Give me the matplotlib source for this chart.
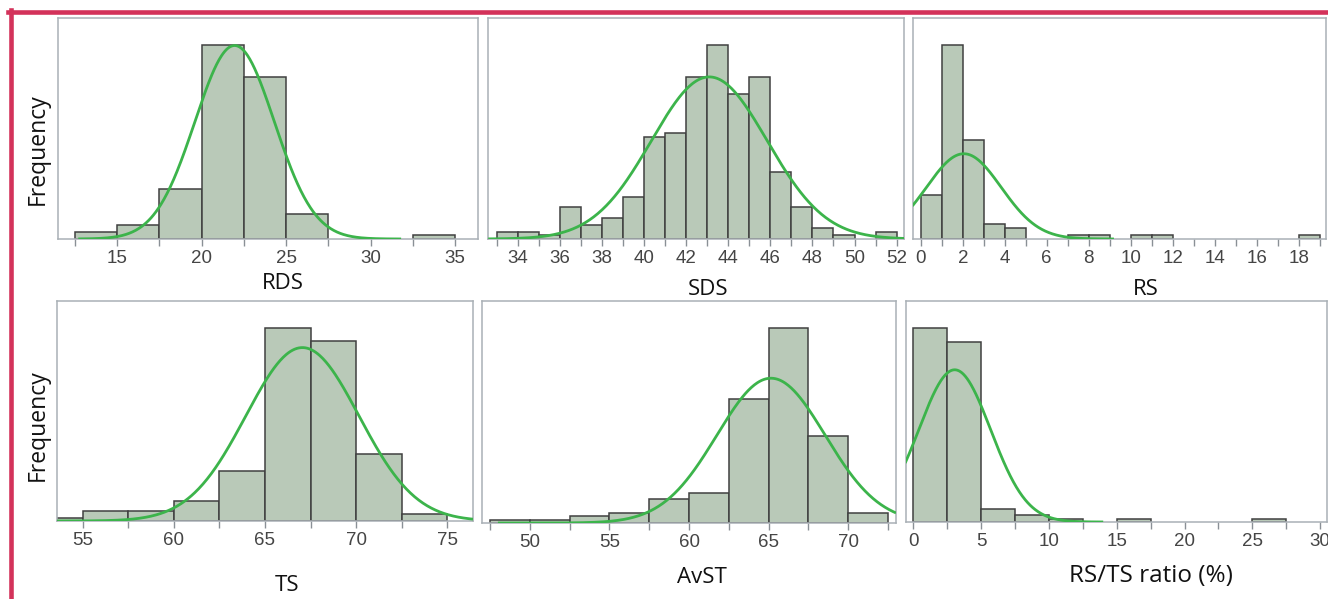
import numpy as np
import matplotlib
matplotlib.use('Agg')
import matplotlib.pyplot as plt
from matplotlib.ticker import MultipleLocator
from matplotlib.lines import Line2D

# Частоты по бинам (начало первого бина, ширина бина, частоты)
rds_start, rds_width = 12.5, 2.5
rds_counts = [2, 4, 14, 54, 45, 7, 0, 0, 1]

sds_start, sds_width = 33, 1
sds_counts = [2, 2, 1, 9, 4, 6, 12, 29, 30, 46, 55, 41, 46, 19, 9, 3, 1, 0, 2]

rs_start, rs_width = 0, 1
rs_counts = [12, 53, 27, 4, 3, 0, 0, 1, 1, 0, 1, 1, 0, 0, 0, 0, 0, 0, 1]

ts_start, ts_width = 52.5, 2.5
ts_counts = [1, 3, 3, 6, 15, 58, 54, 20, 2]

avst_start, avst_width = 47.5, 2.5
avst_counts = [1, 1, 2, 3, 7, 9, 37, 58, 26, 3]

ratio_start, ratio_width = 0, 2.5
ratio_counts = [58, 54, 4, 2, 1, 0, 1, 0, 0, 0, 1]

# Параметры нормальной кривой (среднее, ст. отклонение, диапазон кривой)
rds_fit = (21.95, 2.35, 12.7, 31.8)
sds_fit = (43.1, 2.75, 32.6, 52.4)
rs_fit = (2.05, 1.78, -0.4, 9.2)
ts_fit = (67.05, 3.1, 53.6, 76.4)
avst_fit = (65.15, 3.4, 48.0, 73.0)
ratio_fit = (3.05, 2.65, -0.6, 14.0)

labels = ['RDS', 'SDS', 'RS', 'TS', 'AvST', 'RS/TS ratio (%)']

W, H = 1328, 599
BAR_FILL = '#b9c9b8'
BAR_EDGE = '#404040'
CURVE = '#3cb44b'
SPINE = '#a9b0b6'
TICK_FONT = ['Liberation Sans', 'DejaVu Sans']
LABEL_FONT = ['Open Sans', 'DejaVu Sans']


def px_axes(fig, left, top, right, bottom):
    """ Оси по пиксельным координатам картинки """
    return fig.add_axes([left / W, 1 - bottom / H, (right - left) / W, (bottom - top) / H])


def draw_hist(ax, start, width, counts, fit, xlim, major, minor):
    counts = np.array(counts, dtype=float)
    lefts = start + width * np.arange(len(counts))
    keep = counts > 0
    ax.bar(lefts[keep], counts[keep], width=width, align='edge',
           color=BAR_FILL, edgecolor=BAR_EDGE, linewidth=1.1, zorder=2)

    mean, sd, a, b = fit
    x = np.linspace(a, b, 400)
    y = counts.sum() * width / (sd * np.sqrt(2 * np.pi)) * np.exp(-0.5 * ((x - mean) / sd) ** 2)
    ax.plot(x, y, color=CURVE, linewidth=2.0, zorder=3, solid_capstyle='butt')

    ax.set_xlim(*xlim)
    ax.set_ylim(0, counts.max() * 1.14)
    ax.set_yticks([])
    ax.xaxis.set_major_locator(MultipleLocator(major))
    ax.xaxis.set_minor_locator(MultipleLocator(minor))
    ax.tick_params(axis='x', which='both', direction='out', length=5,
                   width=1.0, color='#8a9096', pad=3)
    ax.tick_params(axis='x', which='major', labelsize=13.5, labelcolor='#454545')
    for t in ax.get_xticklabels():
        t.set_family(TICK_FONT)
    for s in ax.spines.values():
        s.set_color(SPINE)
        s.set_linewidth(1.1)


fig = plt.figure(figsize=(W / 100, H / 100), dpi=100)

ax1 = px_axes(fig, 58, 18, 478, 239)
draw_hist(ax1, rds_start, rds_width, rds_counts, rds_fit, (11.5, 36.35), 5, 2.5)

ax2 = px_axes(fig, 488, 18, 904, 239)
draw_hist(ax2, sds_start, sds_width, sds_counts, sds_fit, (32.59, 52.35), 2, 1)

ax3 = px_axes(fig, 913, 18, 1326, 239)
draw_hist(ax3, rs_start, rs_width, rs_counts, rs_fit, (-0.37, 19.3), 2, 1)

ax4 = px_axes(fig, 57, 301, 473, 521)
draw_hist(ax4, ts_start, ts_width, ts_counts, ts_fit, (53.6, 76.4), 5, 2.5)

ax5 = px_axes(fig, 482, 301, 896, 523)
draw_hist(ax5, avst_start, avst_width, avst_counts, avst_fit, (47.0, 73.0), 5, 2.5)

ax6 = px_axes(fig, 906, 301, 1327, 522)
draw_hist(ax6, ratio_start, ratio_width, ratio_counts, ratio_fit, (-0.54, 30.5), 5, 2.5)

# Подписи осей
label_pos = [(283, 289), (708, 295), (1146, 295), (287, 591), (702, 583), (1151, 582)]
label_size = [16, 16, 16, 16, 16, 17.5]
for text, (px, py), size in zip(labels, label_pos, label_size):
    fig.text(px / W, 1 - py / H, text, ha='center', va='baseline',
             fontsize=size, family=LABEL_FONT, color='#111111')

for py in (149, 425):
    fig.text(38 / W, 1 - py / H, 'Frequency', rotation=90, ha='center', va='center',
             fontsize=16.5, family=LABEL_FONT, color='#111111')

# Красная рамка
red = '#d3325a'
fig.add_artist(Line2D([8 / W, 1], [1 - 11.5 / H, 1 - 11.5 / H], color=red,
                      linewidth=3.3, transform=fig.transFigure))
fig.add_artist(Line2D([10.5 / W, 10.5 / W], [0, 1 - 9.5 / H], color=red,
                      linewidth=3.3, transform=fig.transFigure))

fig.savefig('out.png', dpi=100)
